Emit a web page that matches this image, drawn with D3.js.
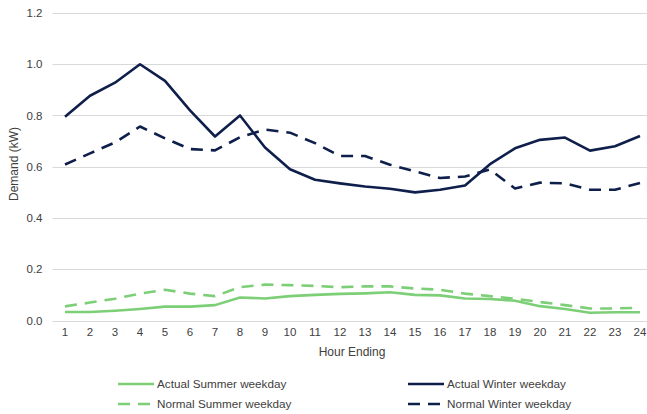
<!DOCTYPE html>
<html><head><meta charset="utf-8">
<script src="https://cdn.jsdelivr.net/npm/d3@7"></script>
<style>body{margin:0;background:#fff;}svg{display:block;font-family:"Liberation Sans",Arial,sans-serif;}</style>
</head><body>
<svg id="c" width="647" height="414"></svg>
<script>
const hours = d3.range(1, 25).map(String);
const yTicks = [0, 0.2, 0.4, 0.6, 0.8, 1.0, 1.2];
const actualSummer = [0.033,0.033,0.038,0.045,0.054,0.054,0.06,0.09,0.086,0.095,0.10,0.104,0.106,0.11,0.10,0.098,0.086,0.084,0.077,0.056,0.045,0.03,0.032,0.032];
const normalSummer = [0.055,0.07,0.085,0.105,0.12,0.105,0.095,0.13,0.14,0.138,0.135,0.13,0.133,0.133,0.125,0.12,0.105,0.095,0.085,0.072,0.06,0.047,0.047,0.05];
const actualWinter = [0.795,0.877,0.928,1.0,0.935,0.82,0.718,0.80,0.675,0.59,0.549,0.535,0.523,0.514,0.50,0.51,0.527,0.61,0.672,0.705,0.714,0.663,0.68,0.72];
const normalWinter = [0.609,0.652,0.695,0.757,0.711,0.669,0.664,0.715,0.745,0.733,0.692,0.642,0.642,0.608,0.582,0.556,0.562,0.589,0.515,0.538,0.535,0.51,0.51,0.537];
const seriesNames = ["Actual Summer weekday","Actual Winter weekday","Normal Summer weekday","Normal Winter weekday"];

const green = "#7ccf76", navy = "#0f1f4b";
const series = [
  {name: seriesNames[0], values: actualSummer, color: green, dash: null},
  {name: seriesNames[1], values: actualWinter, color: navy, dash: null},
  {name: seriesNames[2], values: normalSummer, color: green, dash: "12,8"},
  {name: seriesNames[3], values: normalWinter, color: navy, dash: "12,8"}
];

const svg = d3.select("#c");
const mLeft = 52.5, mRight = 652.5, mTop = 13, mBottom = 320.5;
const x = d3.scaleBand().domain(hours).range([mLeft, mRight]);
const y = d3.scaleLinear().domain([0, 1.2]).range([mBottom, mTop]);

// gridlines
svg.append("g").selectAll("line").data(yTicks).join("line")
  .attr("x1", mLeft).attr("x2", 647).attr("y1", d => Math.round(y(d)) + 0.5).attr("y2", d => Math.round(y(d)) + 0.5)
  .attr("stroke", "#d9d9d9").attr("stroke-width", 1);

// y axis labels
const yAxis = d3.axisLeft(y).tickValues(yTicks).tickFormat(d3.format(".1f")).tickSize(0).tickPadding(10);
const gy = svg.append("g").attr("transform", `translate(${mLeft},0)`).call(yAxis);
gy.select(".domain").remove();
gy.selectAll("text").attr("font-size", 11.5).attr("fill", "#404040").attr("font-family", "Liberation Sans, Arial, sans-serif");

// x axis labels
const xAxis = d3.axisBottom(x).tickSize(0).tickPadding(7);
const gx = svg.append("g").attr("transform", `translate(0,${mBottom})`).call(xAxis);
gx.select(".domain").remove();
gx.selectAll("text").attr("font-size", 11.5).attr("fill", "#404040").attr("font-family", "Liberation Sans, Arial, sans-serif");

// axis titles
svg.append("text").attr("x", 352).attr("y", 356).attr("text-anchor", "middle")
  .attr("font-size", 12).attr("fill", "#404040").text("Hour Ending");
svg.append("text").attr("transform", "translate(18,164) rotate(-90)").attr("text-anchor", "middle")
  .attr("font-size", 12).attr("fill", "#404040").text("Demand (kW)");

// lines
const line = d3.line().x((d, i) => x(hours[i]) + x.bandwidth() / 2).y(d => y(d));
svg.append("g").selectAll("path").data(series).join("path")
  .attr("d", d => line(d.values))
  .attr("fill", "none").attr("stroke", d => d.color).attr("stroke-width", 2.6)
  .attr("stroke-dasharray", d => d.dash).attr("stroke-linejoin", "round");

// legend
const legPos = [[118, 384], [408, 384], [118, 404], [408, 404]];
const leg = svg.append("g").selectAll("g").data(series).join("g")
  .attr("transform", (d, i) => `translate(${legPos[i][0]},${legPos[i][1]})`);
leg.append("line").attr("x1", 0).attr("x2", 36).attr("y1", 0).attr("y2", 0)
  .attr("stroke", d => d.color).attr("stroke-width", 2.6).attr("stroke-dasharray", d => d.dash);
leg.append("text").attr("x", 39).attr("y", 4).attr("font-size", 11.7).attr("fill", "#404040").text(d => d.name);
</script>
</body></html>
